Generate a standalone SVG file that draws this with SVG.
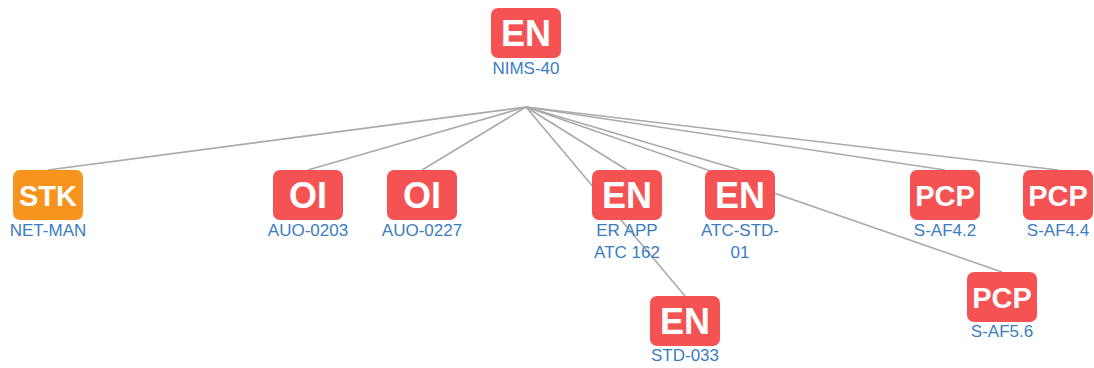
<svg xmlns="http://www.w3.org/2000/svg" width="1094" height="368" viewBox="0 0 1094 368">
<style>
.edge{stroke:#aaaaaa;stroke-width:1.6;fill:none}
.box{fill:#f55353}
.stk{fill:#f7941d}
.t{font-family:"Liberation Sans",Arial,sans-serif;font-weight:bold;font-size:36px;fill:#ffffff;text-anchor:middle}
.s{font-size:29px}
.l{font-family:"Liberation Sans",Arial,sans-serif;font-size:17px;fill:#3b7dbf;text-anchor:middle}
</style>
<rect width="1094" height="368" fill="#ffffff"/>
<g id="connectors">
<line class="edge" x1="526" y1="107" x2="48" y2="170"/>
<line class="edge" x1="526" y1="107" x2="308" y2="170"/>
<line class="edge" x1="526" y1="107" x2="422" y2="170"/>
<line class="edge" x1="526" y1="107" x2="627" y2="170"/>
<line class="edge" x1="526" y1="107" x2="740" y2="170"/>
<line class="edge" x1="526" y1="107" x2="945" y2="170"/>
<line class="edge" x1="526" y1="107" x2="1058" y2="170"/>
<line class="edge" x1="526" y1="107" x2="685" y2="296"/>
<line class="edge" x1="526" y1="107" x2="1002" y2="272"/>
</g>
<g id="n-nims40">
<rect class="box" x="491" y="8" width="70" height="50" rx="7"/>
<text class="t" x="526" y="45.5">EN</text>
<text class="l" x="526" y="74">NIMS-40</text>
</g>
<g id="n-netman">
<rect class="stk" x="13" y="170" width="70" height="50" rx="7"/>
<text class="t s" x="48" y="206">STK</text>
<text class="l" x="48" y="236">NET-MAN</text>
</g>
<g id="n-auo0203">
<rect class="box" x="273" y="170" width="70" height="50" rx="7"/>
<text class="t" x="308" y="207.5">OI</text>
<text class="l" x="308" y="236">AUO-0203</text>
</g>
<g id="n-auo0227">
<rect class="box" x="387" y="170" width="70" height="50" rx="7"/>
<text class="t" x="422" y="207.5">OI</text>
<text class="l" x="422" y="236">AUO-0227</text>
</g>
<g id="n-erapp">
<rect class="box" x="592" y="170" width="70" height="50" rx="7"/>
<text class="t" x="627" y="207.5">EN</text>
<text class="l" x="627" y="236">ER APP</text>
<text class="l" x="627" y="258">ATC 162</text>
</g>
<g id="n-atcstd01">
<rect class="box" x="705" y="170" width="70" height="50" rx="7"/>
<text class="t" x="740" y="207.5">EN</text>
<text class="l" x="740" y="236">ATC-STD-</text>
<text class="l" x="740" y="258">01</text>
</g>
<g id="n-saf42">
<rect class="box" x="910" y="170" width="70" height="50" rx="7"/>
<text class="t s" x="945" y="206">PCP</text>
<text class="l" x="945" y="236">S-AF4.2</text>
</g>
<g id="n-saf44">
<rect class="box" x="1023" y="170" width="70" height="50" rx="7"/>
<text class="t s" x="1058" y="206">PCP</text>
<text class="l" x="1058" y="236">S-AF4.4</text>
</g>
<g id="n-std033">
<rect class="box" x="650" y="296" width="70" height="50" rx="7"/>
<text class="t" x="685" y="333.5">EN</text>
<text class="l" x="685" y="361">STD-033</text>
</g>
<g id="n-saf56">
<rect class="box" x="967" y="272" width="70" height="50" rx="7"/>
<text class="t s" x="1002" y="308">PCP</text>
<text class="l" x="1002" y="337">S-AF5.6</text>
</g>
</svg>
